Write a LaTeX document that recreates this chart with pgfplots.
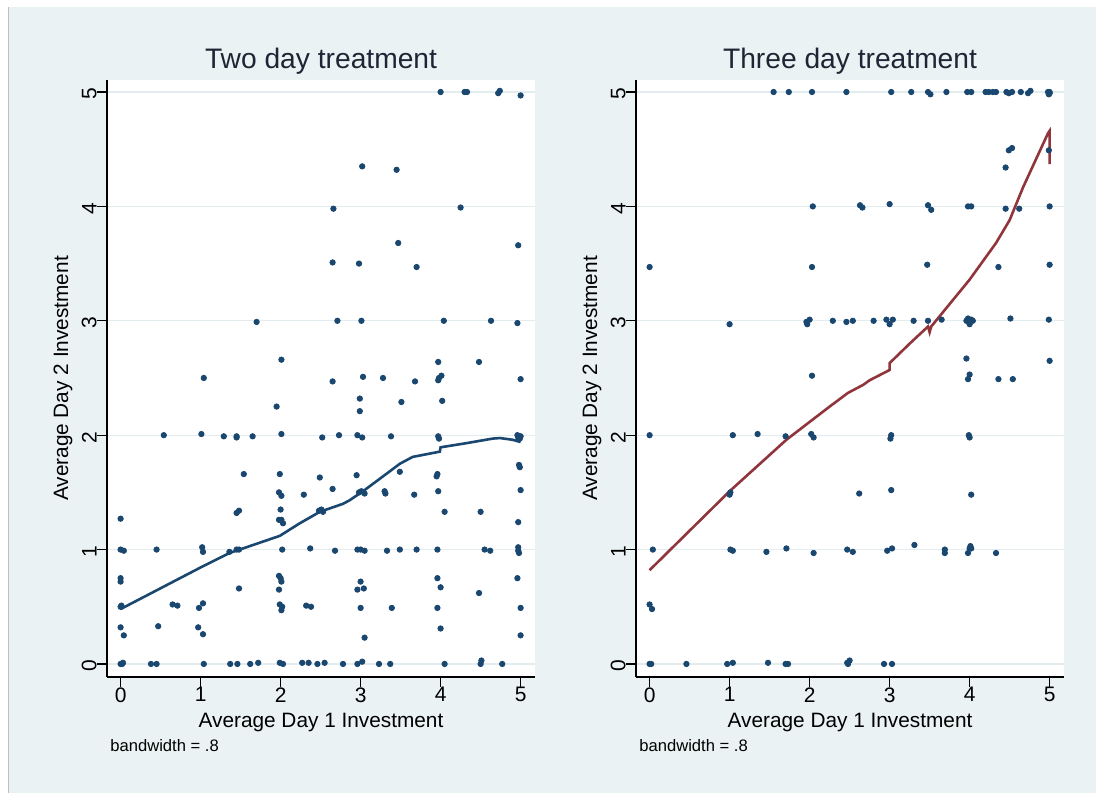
\documentclass[border=0pt]{standalone}
\usepackage{fontspec}
\setmainfont{Liberation Sans}
\usepackage{pgfplots}
\pgfplotsset{compat=1.18}
\definecolor{bgc}{HTML}{EAF2F3}
\definecolor{stnavy}{HTML}{1A476F}
\definecolor{stmaroon}{HTML}{90353B}
\definecolor{gridc}{HTML}{E3ECEE}
\definecolor{titlec}{HTML}{1E2535}

\pgfplotsset{
 stata/.style={
  scale only axis, width=214pt, height=298.5pt,
  xmin=-0.17, xmax=5.18, ymin=-0.114, ymax=5.105,
  axis x line*=bottom, axis y line*=left,
  axis line style={-, black, line width=0.7pt},
  xtick={0,1,2,3,4,5}, ytick={0,1,2,3,4,5},
  tick align=outside, major tick length=5pt,
  tick style={black, line width=0.6pt},
  ymajorgrids, grid style={gridc, line width=0.6pt},
  axis background/.style={fill=white},
  /pgf/number format/assume math mode=true,
  tick label style={font=\fontsize{10.5}{12}\selectfont},
  yticklabel style={rotate=90, anchor=south, inner sep=0pt, xshift=-1pt},
  xticklabel style={anchor=north, inner sep=0pt},
  every axis title/.style={at={(0.5,1.0201)}, anchor=base, font=\fontsize{14.1}{17}\selectfont, text=titlec},
  every axis x label/.style={at={(0.5,-0.0854)}, anchor=base, font=\fontsize{10.4}{12}\selectfont},
  every axis y label/.style={at={(-0.0911,0.5)}, rotate=90, anchor=base, font=\fontsize{10.4}{12}\selectfont},
  xlabel={Average Day 1 Investment},
  ylabel={Average Day 2 Investment},
  clip=false,
 },
 dots/.style={only marks, mark=*, mark size=1.35pt, color=stnavy, mark options={draw=stnavy, fill=stnavy}},
}

\pgfplotstableread{
x y
4.00 5.00
4.30 5.00
4.33 5.00
4.72 4.99
4.74 5.01
5.00 4.97
3.02 4.35
3.45 4.32
2.66 3.98
4.25 3.99
3.47 3.68
4.97 3.66
2.65 3.51
2.98 3.50
3.70 3.47
1.70 2.99
2.71 3.00
3.01 3.00
4.04 3.00
4.63 3.00
4.96 2.98
2.01 2.66
3.97 2.64
4.48 2.64
1.04 2.50
2.65 2.47
3.03 2.51
3.28 2.50
3.68 2.47
3.98 2.50
3.97 2.48
4.01 2.52
5.00 2.49
2.99 2.32
2.99 2.21
4.02 2.30
3.51 2.29
1.95 2.25
0.54 2.00
1.01 2.01
1.29 1.99
1.45 1.99
1.45 1.98
1.65 1.99
2.01 2.01
2.52 1.98
2.73 2.00
2.96 2.00
3.02 1.98
3.38 1.99
3.97 1.99
3.98 1.97
4.96 2.00
5.00 1.99
4.99 1.97
4.97 1.98
1.54 1.66
1.99 1.66
2.49 1.63
2.95 1.65
3.49 1.68
3.96 1.66
3.95 1.64
4.99 1.72
4.98 1.74
2.65 1.53
1.98 1.50
2.01 1.47
2.29 1.48
2.98 1.50
3.01 1.51
3.05 1.49
3.30 1.51
3.31 1.49
3.67 1.48
3.97 1.51
5.00 1.52
1.48 1.34
1.45 1.32
2.00 1.35
1.98 1.26
2.01 1.26
2.03 1.23
2.48 1.34
2.51 1.35
2.53 1.33
4.05 1.33
4.50 1.33
4.97 1.24
0.00 1.27
0.00 1.00
0.04 0.99
0.45 1.00
1.02 1.02
1.03 0.98
1.36 0.98
1.45 1.00
1.48 1.00
2.02 1.00
2.37 1.01
2.68 0.99
2.96 1.00
3.00 1.00
3.05 0.99
3.33 0.99
3.49 1.00
3.70 1.00
3.96 1.00
4.55 1.00
4.62 0.99
4.97 1.02
4.97 0.99
4.98 0.97
0.00 0.75
0.00 0.72
1.98 0.77
2.00 0.75
2.01 0.72
1.98 0.65
1.48 0.66
3.00 0.72
2.96 0.65
3.04 0.66
3.96 0.75
4.00 0.67
4.48 0.62
4.96 0.75
0.00 0.50
0.01 0.51
0.65 0.52
0.71 0.51
0.98 0.49
1.03 0.53
1.99 0.52
2.02 0.50
2.01 0.47
2.32 0.51
2.38 0.50
3.00 0.49
3.39 0.49
3.96 0.49
5.00 0.49
0.00 0.32
0.47 0.33
0.97 0.32
0.04 0.25
1.03 0.26
4.00 0.31
3.05 0.23
5.00 0.25
0.00 0.00
0.03 0.01
0.02 0.00
0.38 0.00
0.45 0.00
1.04 0.00
1.37 0.00
1.46 0.00
1.62 0.00
1.72 0.01
1.99 0.01
2.03 0.00
2.27 0.01
2.35 0.01
2.46 0.00
2.55 0.01
2.78 0.00
2.96 0.00
3.02 0.02
3.23 0.00
3.37 0.00
4.05 0.00
4.50 0.00
4.51 0.03
4.77 0.00
}\twodots

\pgfplotstableread{
x y
0.00 0.48
0.99 0.84
1.36 0.97
1.53 1.01
1.99 1.12
2.24 1.23
2.49 1.33
2.78 1.40
2.86 1.43
3.03 1.51
3.28 1.64
3.49 1.75
3.65 1.81
3.99 1.856
4.00 1.894
4.32 1.93
4.65 1.97
4.74 1.975
4.90 1.96
5.00 1.94
}\twoline

\pgfplotstableread{
x y
1.55 5.00
1.74 5.00
2.03 5.00
2.46 5.00
3.02 5.00
3.27 5.00
3.48 5.00
3.51 4.98
3.71 5.00
3.97 5.00
4.02 5.00
4.20 5.00
4.24 5.00
4.29 5.00
4.33 5.00
4.46 5.00
4.49 4.99
4.53 5.00
4.64 5.00
4.73 4.99
4.76 5.01
4.98 5.00
5.00 4.99
5.00 5.00
4.99 4.98
4.49 4.49
4.53 4.51
4.99 4.49
4.45 4.34
2.04 4.00
2.63 4.01
2.66 3.99
3.00 4.02
3.48 4.01
3.52 3.97
3.98 4.00
4.02 4.00
4.45 3.98
4.62 3.98
5.00 4.00
0.00 3.47
2.03 3.47
3.47 3.49
4.36 3.47
5.00 3.49
1.00 2.97
1.96 2.99
2.00 3.01
1.97 2.97
2.29 3.00
2.46 2.99
2.54 3.00
2.80 3.00
2.96 3.01
3.00 2.97
3.04 3.01
3.30 3.00
3.48 3.00
3.65 3.01
3.96 3.00
3.98 3.02
4.02 3.01
4.00 2.97
4.04 3.00
4.51 3.02
4.99 3.01
3.96 2.67
5.00 2.65
2.03 2.52
4.00 2.53
3.98 2.49
4.36 2.49
4.54 2.49
0.00 2.00
1.04 2.00
1.35 2.01
1.70 1.99
2.02 2.01
2.05 1.98
3.02 2.00
3.01 1.97
3.99 2.00
4.00 1.98
2.62 1.49
3.02 1.52
4.02 1.48
1.00 1.48
1.01 1.50
0.04 1.00
1.01 1.00
1.04 0.99
1.46 0.98
1.71 1.01
2.05 0.97
2.47 1.00
2.54 0.98
2.97 0.99
3.03 1.01
3.31 1.04
3.69 1.00
3.69 0.97
3.98 0.97
4.00 1.01
4.02 1.01
4.01 1.03
4.33 0.97
0.00 0.52
0.03 0.48
0.00 0.00
0.02 0.00
0.46 0.00
0.97 0.00
1.04 0.01
1.48 0.01
1.70 0.00
1.73 0.00
2.47 0.01
2.50 0.03
2.48 0.00
2.93 0.00
3.03 0.00
}\threedots

\pgfplotstableread{
x y
0.00 0.82
1.00 1.51
1.71 1.96
2.25 2.25
2.48 2.37
2.67 2.44
2.75 2.48
3.00 2.57
3.00 2.63
3.25 2.80
3.48 2.95
3.50 2.90
3.52 2.95
4.00 3.36
4.33 3.68
4.50 3.88
4.67 4.17
4.98 4.64
5.00 4.66
5.00 4.37
}\threeline

\begin{document}
\begin{tikzpicture}
\path[use as bounding box] (0,0) rectangle (548pt,396.5pt);
\fill[bgc] (4pt,0) rectangle (548pt,393pt);
\draw[color=black!25, line width=0.5pt] (4.2pt,0) -- (4.2pt,393pt);

\begin{axis}[stata, at={(53.5pt,58pt)}, anchor=south west, title={Two day treatment}]
\addplot[dots] table {\twodots};
\addplot[stnavy, line width=1.3pt, no marks] table {\twoline};
\node[anchor=base west, inner sep=0pt, font=\fontsize{8.3}{10}\selectfont] at (rel axis cs:0.007,-0.1256) {bandwidth = .8};
\end{axis}

\begin{axis}[stata, at={(318pt,58pt)}, anchor=south west, title={Three day treatment}]
\addplot[dots] table {\threedots};
\addplot[stmaroon, line width=1.3pt, no marks] table {\threeline};
\node[anchor=base west, inner sep=0pt, font=\fontsize{8.3}{10}\selectfont] at (rel axis cs:0.007,-0.1256) {bandwidth = .8};
\end{axis}
\end{tikzpicture}
\end{document}
